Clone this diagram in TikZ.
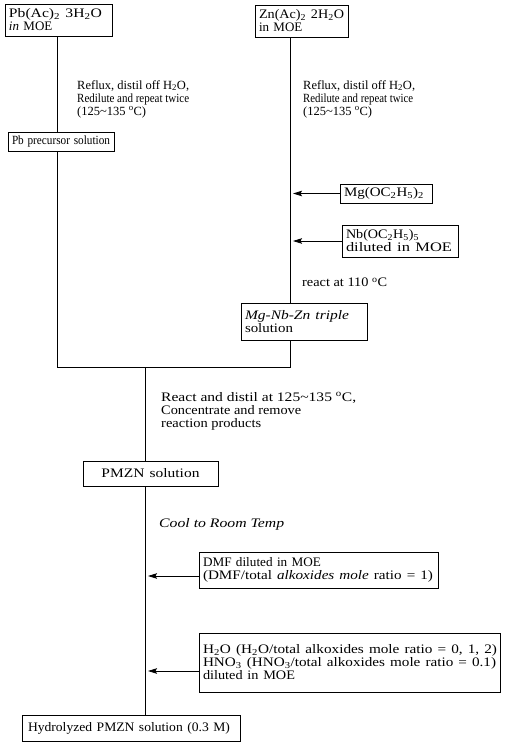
\documentclass[tikz,border=0pt]{standalone}
\usepackage{fontspec}
\usepackage{graphicx}
\setmainfont{Liberation Serif}
\usetikzlibrary{arrows.meta}
\newcommand\dg{\textsuperscript{o}}
\newcommand\tl{\textasciitilde}
\newcommand\sbs[1]{\textsubscript{#1}}
\newcommand\fw[2]{\resizebox{#1pt}{\height}{#2}}
\begin{document}
\begin{tikzpicture}[x=1pt,y=-1pt,
  font=\fontsize{13}{13}\selectfont,
  conn/.style={line width=0.8pt},
  arr/.style={line width=0.8pt,-{Stealth[length=9pt,width=5.5pt,inset=1.5pt]}},
  lbl/.style={anchor=north west,align=left,inner sep=0pt},
  small/.style={font=\fontsize{12.5}{13}\selectfont},
]
\useasboundingbox (0,0) rectangle (506,744);
\tikzset{bx/.style n args={2}{draw,line width=0.8pt,minimum width=#1,minimum height=#2,text width=#1-8pt,inner xsep=4pt,inner ysep=1pt,align=left}}

\node[bx={107pt}{32pt}] (pb) at (58.5,20) {\fw{93}{Pb(Ac)\sbs{2} 3H\sbs{2}O}\\\textit{in} MOE};
\node[bx={93pt}{32pt}] (zn) at (301.5,21) {\fw{85}{Zn(Ac)\sbs{2} 2H\sbs{2}O}\\in MOE};
\node[bx={106pt}{19pt},small] (pbprec) at (61,141.5) {\fw{98}{Pb precursor solution}};
\node[bx={92pt}{19pt}] (mg) at (386,193.5) {\fw{80}{Mg(OC\sbs{2}H\sbs{5})\sbs{2}}};
\node[bx={116pt}{32pt}] (nb) at (400,241) {\fw{73}{Nb(OC\sbs{2}H\sbs{5})\sbs{5}}\\\fw{106}{diluted in MOE}};
\node[bx={126pt}{37pt}] (mnz) at (304,321.5) {\fw{104}{\textit{Mg-Nb-Zn triple}}\\\fw{48}{solution}};
\node[bx={135pt}{25pt},text width=127pt,align=center] (pmzn) at (150.5,473.5) {\fw{98}{PMZN solution}};
\node[bx={239pt}{36pt}] (dmf) at (318.5,570) {\fw{118}{DMF diluted in MOE}\\\fw{230}{(DMF/total \textit{alkoxides mole} ratio = 1)}};
\node[bx={301pt}{59pt}] (h2o) at (349.5,662.5) {\fw{294}{H\sbs{2}O (H\sbs{2}O/total alkoxides mole ratio = 0, 1, 2)}\\\fw{293}{HNO\sbs{3} (HNO\sbs{3}/total alkoxides mole ratio = 0.1)}\\\fw{92}{diluted in MOE}};
\node[bx={218pt}{26pt},text width=206pt,inner xsep=6pt] (hyd) at (131,728) {\fw{202}{Hydrolyzed PMZN solution (0.3 M)}};

\node[lbl,small] (t1) at (77,80) {Reflux, distil off H\sbs{2}O,\\\fw{112}{Redilute and repeat twice}\\(125\tl135 \dg C)};
\node[lbl,small] (t2) at (303,80) {Reflux, distil off H\sbs{2}O,\\\fw{110}{Redilute and repeat twice}\\(125\tl135 \dg C)};
\node[lbl] (t3) at (302,278) {\fw{85}{react at 110 \dg C}};
\node[lbl] (t4) at (161,392) {\fw{195}{React and distil at 125\tl135 \dg C,}\\\fw{140}{Concentrate and remove}\\\fw{100}{reaction products}};
\node[lbl] (t5) at (159,518) {\fw{125}{\textit{Cool to Room Temp}}};

\coordinate (ml) at (57,367);
\coordinate (mr) at (290,367);
\coordinate (mc) at (145,367);
\draw[conn] (pb.south -| ml) -- (pbprec.north -| ml);
\draw[conn] (pbprec.south -| ml) -- (ml) -- (mr) -- (mnz.south -| mr);
\draw[conn] (zn.south -| mr) -- (mnz.north -| mr);
\draw[conn] (mc) -- (pmzn.north -| mc);
\draw[conn] (pmzn.south -| mc) -- (hyd.north -| mc);

\coordinate (a1) at (293,193.5);
\coordinate (a2) at (293,241);
\coordinate (a3) at (148,576);
\coordinate (a4) at (148,671);
\draw[arr] (mg.west |- a1) -- (a1);
\draw[arr] (nb.west |- a2) -- (a2);
\draw[arr] (dmf.west |- a3) -- (a3);
\draw[arr] (h2o.west |- a4) -- (a4);
\end{tikzpicture}
\end{document}
